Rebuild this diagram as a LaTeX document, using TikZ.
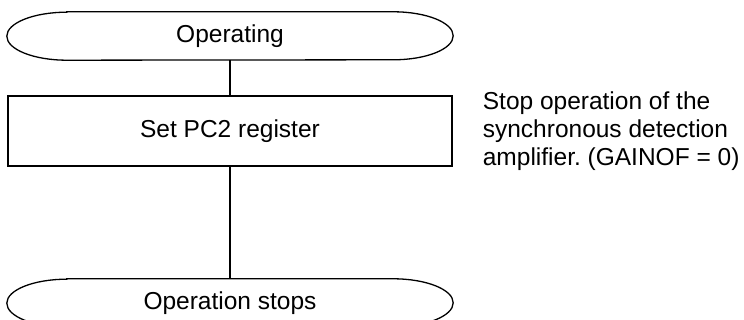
\documentclass[tikz,border=0pt]{standalone}
\usepackage{fontspec}
\setmainfont{Liberation Sans}
\usetikzlibrary{positioning}
\frenchspacing

% outline of a terminal with flat elliptic ends
\newcommand{\termshape}[1]{%
  \draw[line width=1.3pt] ([xshift=60pt]#1.north west) -- ([xshift=-60pt]#1.north east)
    arc[start angle=90, end angle=-90, x radius=60pt, y radius=24pt]
    -- ([xshift=60pt]#1.south west)
    arc[start angle=270, end angle=90, x radius=60pt, y radius=24pt] -- cycle;}

\begin{document}
\begin{tikzpicture}[
        x=1pt, y=1pt,
        font=\fontsize{24.5}{28}\selectfont,
        term/.style={minimum width=446pt, minimum height=48pt, inner sep=0pt},
        procbox/.style={draw, line width=1.3pt, minimum width=444pt, minimum height=70pt, inner sep=0pt},
        link/.style={line width=1.3pt}
    ]
        \useasboundingbox (0,0) rectangle (744,320);
        \node[term] (start) at (230,284) {Operating};
        \node[procbox] (pc2) at (230,189) {Set PC2 register};
        \node[term] (stop) at (230,17) {Operation stops};
        \termshape{start}
        \termshape{stop}
        \node[align=left, anchor=west, inner sep=0pt, right=30pt of pc2.east] (note)
            {Stop operation of the\\synchronous detection\\amplifier. (GAINOF = 0)};
        \draw[link] (start) -- (pc2);
        \draw[link] (pc2) -- (stop);
    \end{tikzpicture}
\end{document}
